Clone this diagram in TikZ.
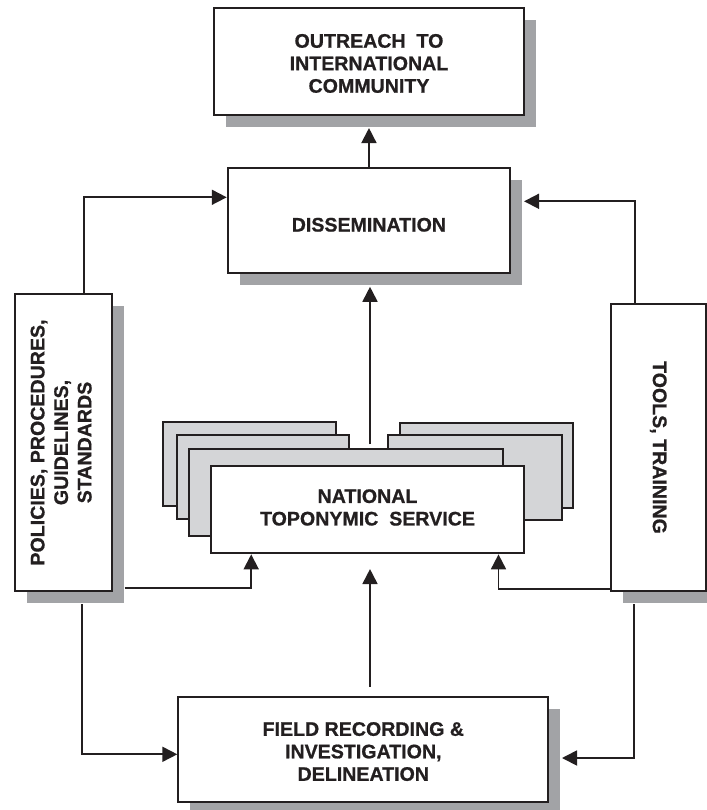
\documentclass[tikz,border=0pt]{standalone}
\usepackage{fontspec}
\setmainfont{Liberation Sans}[BoldFeatures={FakeBold=0.8}]
\usepackage{graphicx}
\usetikzlibrary{arrows.meta,calc,shadows}
\definecolor{ink}{HTML}{231F20}
\definecolor{shgray}{HTML}{A2A3A6}
\definecolor{stackgray}{HTML}{D4D5D7}
\newcommand{\lowtxt}[1]{\raisebox{-4pt}[\height][\depth]{#1}}
\newcommand{\rows}[1]{\begin{tabular}{@{}c@{}}#1\end{tabular}}
\begin{document}
\begin{tikzpicture}[x=1pt,y=-1pt,
  boxbase/.style={draw=ink,line width=2pt,fill=white,inner sep=0pt,align=center,
    font=\fontsize{19.6}{22.5}\selectfont\bfseries,text=ink},
  box/.style={boxbase,drop shadow={shadow xshift=12pt,shadow yshift=-12pt,fill=shgray,opacity=1,draw=none}},
  arr/.style={draw=ink,line width=1.8pt,-{Triangle[length=15pt,width=15pt]}},
  stack/.style={draw=ink,line width=1.8pt,fill=stackgray}]
\useasboundingbox (0,0) rectangle (706,810);

% stacked sheets behind the national service box
\filldraw[stack] (163.3,421.7) rectangle (335.7,506);
\filldraw[stack] (400,423.3) rectangle (573.3,507.7);
\filldraw[stack] (176.7,435) rectangle (349,519.3);
\filldraw[stack] (388.3,435) rectangle (561.7,520);
\filldraw[stack] (189.3,449) rectangle (503.3,536);

\node[box, minimum width=310pt, minimum height=106.7pt] (out) at (369,61.7)
  {\lowtxt{\rows{OUTREACH\ \ TO\\INTERNATIONAL\\COMMUNITY}}};
\node[box, minimum width=282.3pt, minimum height=105pt] (dis) at (368.9,220.8)
  {\lowtxt{DISSEMINATION}};
\node[boxbase, minimum width=313.6pt, minimum height=87.3pt] (nts) at (367.5,509.7)
  {\rows{NATIONAL\\TOPONYMIC\ \ SERVICE}};
\node[box, minimum width=370pt, minimum height=105pt] (field) at (363.3,749.8)
  {\lowtxt{\rows{FIELD RECORDING \&\\INVESTIGATION,\\DELINEATION}}};
\node[box, minimum width=97pt, minimum height=297pt] (pol) at (63.2,442.5)
  {\rotatebox{90}{\fontsize{19.6}{23.5}\selectfont\rows{POLICIES, PROCEDURES,\\GUIDELINES,\\STANDARDS}}};
\node[box, minimum width=94.5pt, minimum height=287pt] (tools) at (658.25,447.5)
  {\rotatebox{-90}{TOOLS, TRAINING}};

% connectors
\draw[arr] (dis.north) -- ($(out.south)+(0,12)$);
\draw[arr] ($(pol.north west)+(70.3,0)$) |- ($(dis.north west)+(0,30)$);
\draw[arr] ($(tools.north west)+(24.7,0)$) |- ($(dis.north east)+(13,34)$);
\draw[arr] ($(nts.north)+(2.5,-21)$) -- ($(dis.south)+(1.1,12.5)$);
\draw[arr] ($(field.north)+(6.7,-9.6)$) -- ($(nts.south)+(2.5,14.7)$);
\draw[arr] ($(pol.south east)+(12,-3.7)$) -| ($(nts.south west)+(41.5,0)$);
\draw[arr] ($(tools.south west)+(0,-2.7)$) -| ($(nts.south east)+(-26.8,0)$);
\draw[arr] ($(pol.south west)+(68.6,12.3)$) |- ($(field.west)+(0,4.5)$);
\draw[arr] ($(tools.south west)+(24,12.3)$) |- ($(field.east)+(12.7,8.2)$);
\end{tikzpicture}
\end{document}
